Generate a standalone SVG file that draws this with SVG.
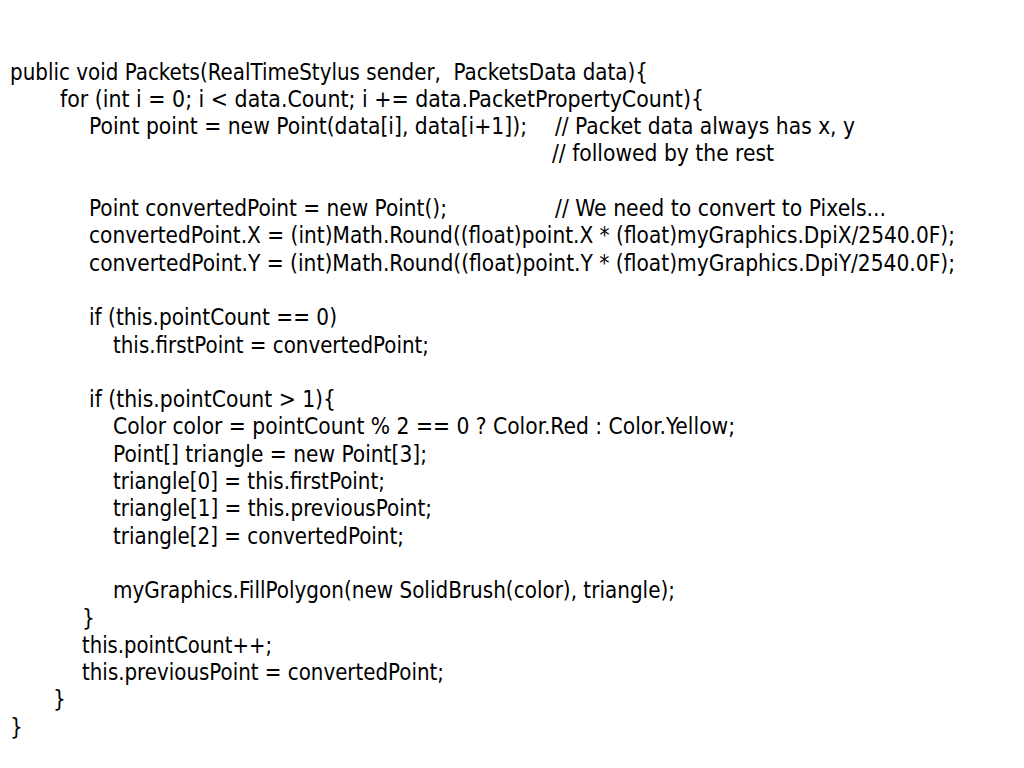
<svg xmlns="http://www.w3.org/2000/svg" width="1024" height="768" viewBox="0 0 1024 768">
<style>
text{font-family:"DejaVu Sans Condensed","DejaVu Sans",sans-serif;font-size:22.5px;fill:#000;white-space:pre}
</style>
<rect width="1024" height="768" fill="#fff"/>
<g id="code">
<text x="10" y="79.5" textLength="638" lengthAdjust="spacingAndGlyphs">public void Packets(RealTimeStylus sender,  PacketsData data){</text>
<text x="60" y="106.8" textLength="644" lengthAdjust="spacingAndGlyphs">for (int i = 0; i &lt; data.Count; i += data.PacketPropertyCount){</text>
<text x="89" y="134.1" textLength="438" lengthAdjust="spacingAndGlyphs">Point point = new Point(data[i], data[i+1]);</text>
<text x="555" y="134.1" textLength="300" lengthAdjust="spacingAndGlyphs">// Packet data always has x, y</text>
<text x="552" y="161.4" textLength="222" lengthAdjust="spacingAndGlyphs">// followed by the rest</text>
<text x="89" y="216" textLength="358" lengthAdjust="spacingAndGlyphs">Point convertedPoint = new Point();</text>
<text x="555" y="216" textLength="331" lengthAdjust="spacingAndGlyphs">// We need to convert to Pixels...</text>
<text x="89" y="243.3" textLength="866" lengthAdjust="spacingAndGlyphs">convertedPoint.X = (int)Math.Round((float)point.X * (float)myGraphics.DpiX/2540.0F);</text>
<text x="89" y="270.6" textLength="866" lengthAdjust="spacingAndGlyphs">convertedPoint.Y = (int)Math.Round((float)point.Y * (float)myGraphics.DpiY/2540.0F);</text>
<text x="89" y="325.2" textLength="248" lengthAdjust="spacingAndGlyphs">if (this.pointCount == 0)</text>
<text x="113" y="352.5" textLength="316" lengthAdjust="spacingAndGlyphs">this.firstPoint = convertedPoint;</text>
<text x="89" y="407.1" textLength="247" lengthAdjust="spacingAndGlyphs">if (this.pointCount &gt; 1){</text>
<text x="113" y="434.4" textLength="622" lengthAdjust="spacingAndGlyphs">Color color = pointCount % 2 == 0 ? Color.Red : Color.Yellow;</text>
<text x="113" y="461.7" textLength="314" lengthAdjust="spacingAndGlyphs">Point[] triangle = new Point[3];</text>
<text x="113" y="489" textLength="272" lengthAdjust="spacingAndGlyphs">triangle[0] = this.firstPoint;</text>
<text x="113" y="516.3" textLength="319" lengthAdjust="spacingAndGlyphs">triangle[1] = this.previousPoint;</text>
<text x="113" y="543.6" textLength="291" lengthAdjust="spacingAndGlyphs">triangle[2] = convertedPoint;</text>
<text x="113" y="598.2" textLength="562" lengthAdjust="spacingAndGlyphs">myGraphics.FillPolygon(new SolidBrush(color), triangle);</text>
<text x="82" y="625.5">}</text>
<text x="82" y="652.8" textLength="190" lengthAdjust="spacingAndGlyphs">this.pointCount++;</text>
<text x="82" y="680.1" textLength="362" lengthAdjust="spacingAndGlyphs">this.previousPoint = convertedPoint;</text>
<text x="53" y="707.4">}</text>
<text x="10" y="734.7">}</text>
</g>
</svg>
